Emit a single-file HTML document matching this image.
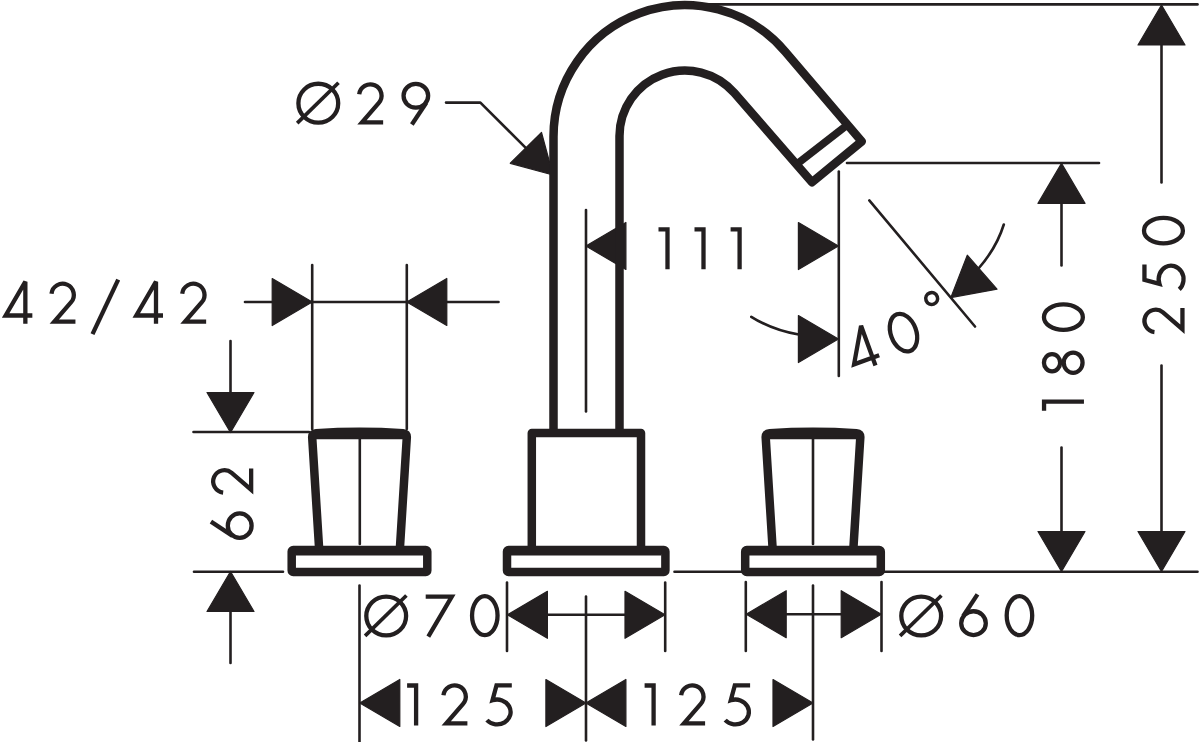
<!DOCTYPE html>
<html><head><meta charset="utf-8"><title>Dimension drawing</title>
<style>
html,body{margin:0;padding:0;background:#fff;font-family:"Liberation Sans",sans-serif}
svg{display:block}
.thin path{fill:none;stroke:#231f20;stroke-width:2.6;stroke-linecap:round;stroke-linejoin:round}
.thick path,.thick rect{fill:none;stroke:#231f20;stroke-width:8.5;stroke-linejoin:round;stroke-linecap:butt}
.txt path,.txt circle,.txt ellipse{fill:none;stroke:#231f20;stroke-width:4.3;stroke-linecap:butt;stroke-linejoin:miter;stroke-miterlimit:3}
.txt .sl{stroke-width:3.7}
.a{fill:#231f20;stroke:#231f20;stroke-width:1.2;stroke-linejoin:round}
</style></head><body>
<svg width="1200" height="742" viewBox="0 0 1200 742">
<rect width="1200" height="742" fill="#fff"/>
<g class="thin">
<path class="n" d="M690 4.4L1197.5 4.4"/>
<path class="n" d="M1161.5 40L1161.5 182.5"/>
<path class="n" d="M1161.5 365.5L1161.5 535"/>
<path class="n" d="M847 163L1099 163"/>
<path class="n" d="M1061.5 200L1061.5 265.5"/>
<path class="n" d="M1061.5 447.5L1061.5 535"/>
<path class="n" d="M838.8 171.5L838.8 376"/>
<path class="n" d="M586 210L586 411.5"/>
<path class="n" d="M869.3 200.4L975 326.5"/>
<path class="n" d="M194 571.8L283 571.8"/>
<path class="n" d="M674.5 571.8L1197.5 571.8"/>
<path class="n" d="M193.5 432L309 432"/>
<path class="n" d="M230.5 341L230.5 395"/>
<path class="n" d="M230.5 610L230.5 663"/>
<path class="n" d="M312.2 265L312.2 429"/>
<path class="n" d="M406.8 265L406.8 429"/>
<path class="n" d="M245 302L498.5 302"/>
<path class="n" d="M359.8 438L359.8 544"/>
<path class="n" d="M813 438L813 544"/>
<path class="n" d="M359.5 585.5L359.5 742"/>
<path class="n" d="M507 582.5L507 651"/>
<path class="n" d="M665.2 582.5L665.2 651"/>
<path class="n" d="M586 596.5L586 740.5"/>
<path class="n" d="M540 614.8L630 614.8"/>
<path class="n" d="M745.8 582L745.8 651"/>
<path class="n" d="M881.5 582L881.5 651"/>
<path class="n" d="M813 585.5L813 739.5"/>
<path class="n" d="M780 614.2L845 614.2"/>
<path class="n" d="M446 102.6H480.4L528 150.2"/>
<path class="n" d="M751.3 316.8Q773 330.5 800 334.8"/>
<path class="n" d="M1003.8 224.5Q996.5 248 978.5 268.5"/>
</g>
<polygon class="a" points="1161.50,5.00 1185.00,45.00 1138.00,45.00"/>
<polygon class="a" points="1161.50,571.50 1138.00,531.50 1185.00,531.50"/>
<polygon class="a" points="1061.50,163.40 1085.00,203.40 1038.00,203.40"/>
<polygon class="a" points="1061.50,571.50 1038.00,531.50 1085.00,531.50"/>
<polygon class="a" points="585.90,246.00 625.90,222.50 625.90,269.50"/>
<polygon class="a" points="838.40,246.00 798.40,269.50 798.40,222.50"/>
<polygon class="a" points="838.40,339.00 798.40,362.50 798.40,315.50"/>
<polygon class="a" points="950.8,297.6 967.3,255.2 997,289.2"/>
<polygon class="a" points="553,175 510.3,163.3 541.5,132.5"/>
<polygon class="a" points="312.20,302.00 272.20,325.50 272.20,278.50"/>
<polygon class="a" points="406.80,302.00 446.80,278.50 446.80,325.50"/>
<polygon class="a" points="230.50,432.50 207.00,392.50 254.00,392.50"/>
<polygon class="a" points="230.50,571.50 254.00,611.50 207.00,611.50"/>
<polygon class="a" points="507.40,614.80 547.40,591.30 547.40,638.30"/>
<polygon class="a" points="665.00,614.80 625.00,638.30 625.00,591.30"/>
<polygon class="a" points="746.20,614.20 786.20,590.70 786.20,637.70"/>
<polygon class="a" points="881.20,614.20 841.20,637.70 841.20,590.70"/>
<polygon class="a" points="359.80,703.00 399.80,679.50 399.80,726.50"/>
<polygon class="a" points="585.90,703.00 545.90,726.50 545.90,679.50"/>
<polygon class="a" points="585.90,703.00 625.90,679.50 625.90,726.50"/>
<polygon class="a" points="813.00,703.00 773.00,726.50 773.00,679.50"/>
<g class="thick">
<path d="M553.5 433V136.7A131.5 131.5 0 0 1 785.07 51.39L861.8 141.4L812.0 182.3L734.44 93.04A65.5 65.5 0 0 0 619.5 136V433"/>
<path style="stroke-width:7.6" d="M845.9 125.9L798.9 162.4"/>
<path d="M531.8 550V433H641V550"/>
<rect x="507" y="550" width="158.4" height="22" rx="1.5"/>
<path d="M511 551.2H661.4"/>
<rect x="291.7" y="550" width="135.6" height="22" rx="1.5"/>
<path d="M295.5 551.2H423.5"/>
<path d="M313.0 435H406.0"/>
<path d="M319.2 550L312.2 437.5Q311.9 433.4 316.0 433.2Q359.5 430.4 403.0 433.2Q407.1 433.4 406.8 437.5L399.8 550"/>
<rect x="745.2" y="550" width="135.6" height="22" rx="1.5"/>
<path d="M749 551.2H877"/>
<path d="M766.5 435H859.5"/>
<path d="M772.7 550L765.7 437.5Q765.4 433.4 769.5 433.2Q813 430.4 856.5 433.2Q860.6 433.4 860.3 437.5L853.3 550"/>
</g>
<g class="txt">
<g transform="translate(318.30 103.20) rotate(0)"><ellipse cx="0" cy="0" rx="19.9" ry="19.45"/><path class="sl" d="M-21.1 19.9L20.2 -20.5"/></g>
<g transform="translate(359.15 84.35) rotate(0)"><path d="M0.05 10A11.2 11.2 0 1 1 19.68 18.52L2.85 38H24"/></g>
<g transform="translate(403.60 84.35) rotate(0)"><path d="M8.25 40.2L22.51 18.63"/><ellipse cx="12.25" cy="11.45" rx="12.3" ry="11.9"/></g>
<g transform="translate(2.85 283.70) rotate(0)"><path d="M22.5 40.15V-2L2.75 31.8H29.5"/></g>
<g transform="translate(51.45 283.70) rotate(0)"><path d="M0.05 10A11.2 11.2 0 1 1 19.68 18.52L2.85 38H24"/></g>
<path d="M92.5 334.2L118.2 279.7"/>
<g transform="translate(133.50 283.70) rotate(0)"><path d="M22.5 40.15V-2L2.75 31.8H29.5"/></g>
<g transform="translate(182.15 283.70) rotate(0)"><path d="M0.05 10A11.2 11.2 0 1 1 19.68 18.52L2.85 38H24"/></g>
<g transform="translate(667.50 229.45) rotate(0)"><path d="M-9 0H0M0 -2.15V39.9"/></g>
<g transform="translate(703.50 229.45) rotate(0)"><path d="M-9 0H0M0 -2.15V39.9"/></g>
<g transform="translate(739.60 229.45) rotate(0)"><path d="M-9 0H0M0 -2.15V39.9"/></g>
<g transform="translate(840.6 335.4) rotate(-20)">
<g transform="translate(0.00 0.00) rotate(0)"><path d="M22.5 40.15V-2L2.75 31.8H29.5"/></g>
<g transform="translate(47.30 -0.10) rotate(0)"><ellipse cx="12.75" cy="19" rx="12.75" ry="19.45"/></g>
<g transform="translate(98.20 -3.50) rotate(0)"><circle cx="0" cy="0" r="5.9" style="stroke-width:3.6"/></g>
</g>
<g transform="translate(1044.05 401.70) rotate(-90)"><path d="M-9 0H0M0 -2.15V39.9"/></g>
<g transform="translate(1044.05 372.80) rotate(-90)"><ellipse cx="10.1" cy="8" rx="8.6" ry="8.1"/><ellipse cx="10.1" cy="29.1" rx="10.1" ry="9.4"/></g>
<g transform="translate(1044.40 329.90) rotate(-90)"><ellipse cx="12.75" cy="19" rx="12.75" ry="19.45"/></g>
<g transform="translate(1144.45 332.10) rotate(-90)"><path d="M0.05 10A11.2 11.2 0 1 1 19.68 18.52L2.85 38H24"/></g>
<g transform="translate(1144.45 289.10) rotate(-90)"><path d="M24.6 0H9.3L5.3 14.94A13.5 12.45 0 1 1 -0.3 34.8"/></g>
<g transform="translate(1144.45 243.40) rotate(-90)"><ellipse cx="12.75" cy="19" rx="12.75" ry="19.45"/></g>
<g transform="translate(213.15 537.90) rotate(-90)"><path d="M16.25 -2.2L1.99 19.37"/><ellipse cx="12.25" cy="26.55" rx="12.3" ry="11.9"/></g>
<g transform="translate(213.15 492.60) rotate(-90)"><path d="M0.05 10A11.2 11.2 0 1 1 19.68 18.52L2.85 38H24"/></g>
<g transform="translate(386.20 616.00) rotate(0)"><ellipse cx="0" cy="0" rx="19.9" ry="19.45"/><path class="sl" d="M-21.1 19.9L20.2 -20.5"/></g>
<g transform="translate(425.70 596.60) rotate(0)"><path d="M0 0H26.1L2.6 40.1"/></g>
<g transform="translate(472.05 596.60) rotate(0)"><ellipse cx="12.75" cy="19" rx="12.75" ry="19.45"/></g>
<g transform="translate(921.20 616.00) rotate(0)"><ellipse cx="0" cy="0" rx="19.9" ry="19.45"/><path class="sl" d="M-21.1 19.9L20.2 -20.5"/></g>
<g transform="translate(961.25 596.60) rotate(0)"><path d="M16.25 -2.2L1.99 19.37"/><ellipse cx="12.25" cy="26.55" rx="12.3" ry="11.9"/></g>
<g transform="translate(1006.70 596.60) rotate(0)"><ellipse cx="12.75" cy="19" rx="12.75" ry="19.45"/></g>
<g transform="translate(416.10 685.50) rotate(0)"><path d="M-9 0H0M0 -2.15V39.9"/></g>
<g transform="translate(443.40 685.35) rotate(0)"><path d="M0.05 10A11.2 11.2 0 1 1 19.68 18.52L2.85 38H24"/></g>
<g transform="translate(487.20 685.35) rotate(0)"><path d="M24.6 0H9.3L5.3 14.94A13.5 12.45 0 1 1 -0.3 34.8"/></g>
<g transform="translate(653.60 685.50) rotate(0)"><path d="M-9 0H0M0 -2.15V39.9"/></g>
<g transform="translate(681.10 685.35) rotate(0)"><path d="M0.05 10A11.2 11.2 0 1 1 19.68 18.52L2.85 38H24"/></g>
<g transform="translate(725.50 685.35) rotate(0)"><path d="M24.6 0H9.3L5.3 14.94A13.5 12.45 0 1 1 -0.3 34.8"/></g>
</g>
</svg>
</body></html>
